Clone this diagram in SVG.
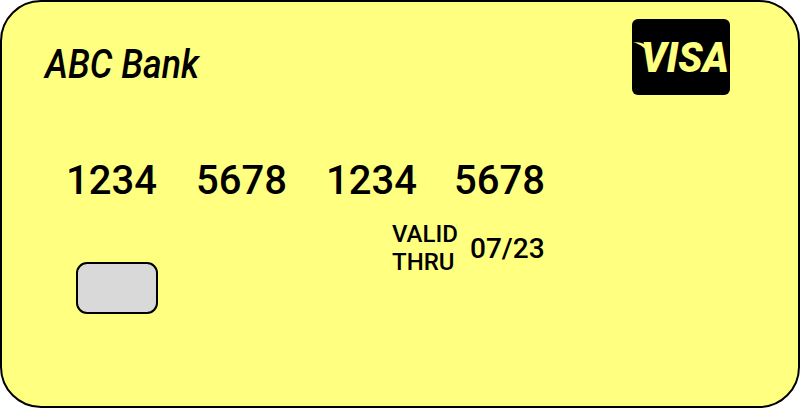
<svg xmlns="http://www.w3.org/2000/svg" width="800" height="408" viewBox="0 0 800 408">
<style>
text{font-family:Roboto,"Liberation Sans",sans-serif;fill:#000}
.num{font-size:40px;font-weight:500}
.sm{font-size:24px;font-weight:500}
</style>
<g id="card"><rect x="1" y="1" width="798" height="406" rx="40" ry="40" fill="#ffff80" stroke="#000" stroke-width="2"/></g>
<g id="bank"><text x="45" y="78" font-size="40" font-style="italic" font-weight="500" textLength="154" lengthAdjust="spacingAndGlyphs">ABC Bank</text></g>
<g id="logo"><rect x="632" y="19" width="98" height="76" rx="6" ry="6" fill="#000"/>
<text x="641" y="72" font-size="43" font-style="italic" font-weight="900" style="fill:#ffff80" textLength="88" lengthAdjust="spacingAndGlyphs">VISA</text>
<path d="M633 42C642 42 649 45 652 52L650 54C645 48 640 44 633 42Z" fill="#ffff80"/></g>
<g id="numbers"><text class="num" x="66" y="194">1234</text><text class="num" x="196" y="194">5678</text><text class="num" x="326" y="194">1234</text><text class="num" x="454" y="194">5678</text></g>
<g id="valid"><text class="sm" x="392" y="242">VALID</text><text class="sm" x="392" y="270">THRU</text><text x="470" y="258" font-size="28" font-weight="500">07/23</text></g>
<g id="chip"><rect x="77" y="263" width="80" height="50" rx="10" ry="10" fill="#d9d9d9" stroke="#000" stroke-width="2"/></g>
<g id="connectors"/>
</svg>
